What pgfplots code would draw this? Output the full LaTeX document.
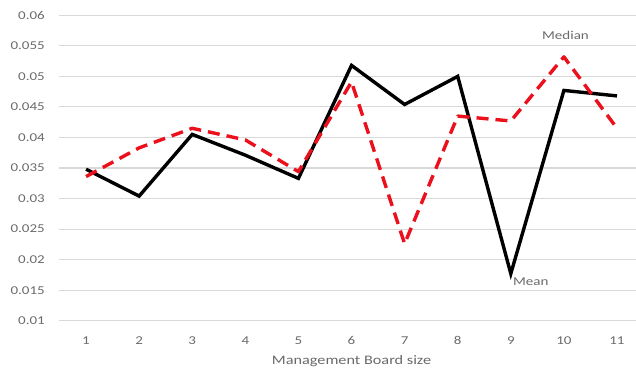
\documentclass[border=0pt]{standalone}
\usepackage{fontspec}
\setmainfont{Carlito}[FakeStretch=1.25]
\usepackage{pgfplots}
\pgfplotsset{compat=1.18}
\definecolor{txtgray}{HTML}{6A6A6A}
\definecolor{gridgray}{HTML}{D9D9D9}
\definecolor{medred}{RGB}{236,16,28}
\begin{document}
\begin{tikzpicture}
\begin{axis}[
  scale only axis,
  width=576.5bp, height=305.4bp,
  xmin=0.5, xmax=11.358,
  ymin=0.01, ymax=0.06,
  axis line style={draw=none},
  major tick length=0pt,
  scaled y ticks=false,
  xtick={1,2,3,4,5,6,7,8,9,10,11},
  ytick={0.01,0.015,0.02,0.025,0.03,0.035,0.04,0.045,0.05,0.055,0.06},
  ymajorgrids,
  grid style={gridgray, line width=1.1bp},
  /pgf/number format/assume math mode=true,
  yticklabel style={/pgf/number format/fixed, /pgf/number format/precision=3,
     anchor=east, inner sep=0pt, xshift=-14.5bp, text=txtgray, font=\fontsize{12bp}{14bp}\selectfont},
  xticklabel style={anchor=center, inner sep=0pt, yshift=-20bp, text=txtgray, font=\fontsize{12bp}{14bp}\selectfont},
  xlabel={Management Board size},
  xlabel style={at={(axis cs:6,0.01)}, anchor=center, inner sep=0pt, yshift=-40bp, text=txtgray, font=\fontsize{13bp}{15bp}\selectfont},
  clip=false,
]
\addplot[black, line width=3.4bp, line join=miter, miter limit=20] coordinates {
  (1,0.0348) (2,0.0304) (3,0.0405) (4,0.0371) (5,0.0333) (6,0.0518)
  (7,0.0454) (8,0.0500) (9,0.0177) (10,0.0477) (11,0.0468)
};
\addplot[medred, line width=3.4bp, dash pattern=on 12bp off 7bp, line join=round] coordinates {
  (1,0.0336) (2,0.0383) (3,0.0415) (4,0.0396) (5,0.0344) (6,0.0491)
  (7,0.0226) (8,0.0435) (9,0.0427) (10,0.0532) (11,0.0415)
};
\node[text=txtgray, font=\fontsize{12bp}{14bp}\selectfont, inner sep=0pt, anchor=center] at (axis cs:10.03,0.05677) {Median};
\node[text=txtgray, font=\fontsize{12bp}{14bp}\selectfont, inner sep=0pt, anchor=west] at (axis cs:9.04,0.01638) {Mean};
\coordinate (ll) at (rel axis cs:0,0);
\coordinate (ur) at (rel axis cs:1,1);
\end{axis}
\pgfresetboundingbox
\path ([shift={(-59.5bp,-54.3bp)}]ll) rectangle ([shift={(0bp,15.3bp)}]ur);
\end{tikzpicture}
\end{document}
